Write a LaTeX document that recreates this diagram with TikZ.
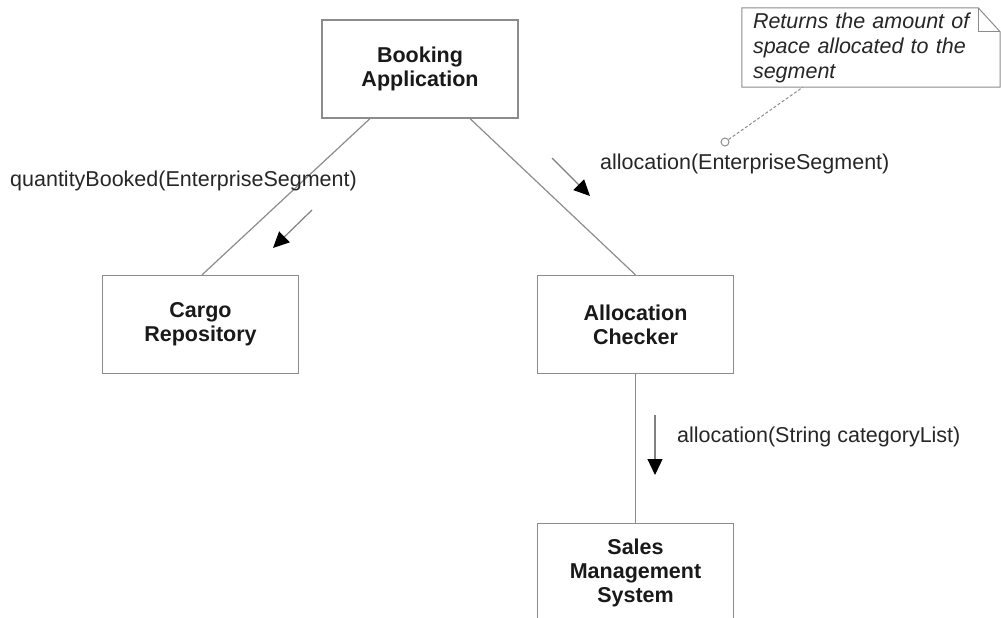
\documentclass[tikz,border=0pt]{standalone}
\usepackage{fontspec}
\setmainfont{Liberation Sans}
\usetikzlibrary{arrows.meta,positioning,calc}

\begin{document}
\begin{tikzpicture}[x=1pt,y=-1pt,
 >={Triangle[length=16pt,width=15pt,color=black]},
 cls/.style={draw=black!45,line width=1.2pt,minimum width=196pt,minimum height=98pt,
   align=center,text=black!90,font=\fontsize{21.5}{24}\selectfont\bfseries},
 lnk/.style={draw=black!45,line width=1.2pt},
 msg/.style={->,draw=black!50,line width=1.2pt},
 lbl/.style={anchor=west,inner sep=0pt,text=black!85,font=\fontsize{21.5}{24}\selectfont}]
\useasboundingbox (0,0) rectangle (1001,618);

\node[cls] (book) at (420,69) {Booking\\Application};
\node[cls] (cargo) at (200.5,324.5) {Cargo\\Repository};
\node[cls] (alloc) at (635.5,324.5) {Allocation\\Checker};
\node[cls] (sales) at (635.5,572.5) {Sales\\Management\\System};

\draw[lnk] ([xshift=-50pt]book.south)--([xshift=1.5pt]cargo.north);
\draw[lnk] ([xshift=50pt]book.south)--(alloc.north);
\draw[lnk] (alloc.south)--(sales.north);

% messages
\coordinate (m1a) at (312,210); \coordinate (m1b) at (273,248);
\coordinate (m2a) at (552,158); \coordinate (m2b) at (590,196);
\coordinate (m3a) at (655,415); \coordinate (m3b) at (655,475);
\draw[msg] (m1a)--(m1b); \draw[msg] (m2a)--(m2b); \draw[msg] (m3a)--(m3b);
\node[lbl] (q1) at (10,181) {quantityBooked(EnterpriseSegment)};
\node[lbl] (q2) at (600,164) {allocation(EnterpriseSegment)};
\node[lbl] (q3) at (677,437) {allocation(String categoryList)};

% note
\node[minimum width=258pt,minimum height=79pt,inner xsep=11pt,text width=236pt,
  align=left,text=black!85,font=\fontsize{21.5}{25}\selectfont\itshape]
  (note) at (871,47.5) {Returns the amount of\\space allocated to the\\segment};
\draw[lnk,line width=1pt] (note.north west)--([xshift=-22pt]note.north east)
  --([yshift=-24pt]note.north east)--(note.south east)--(note.south west)--cycle;
\draw[lnk,line width=1pt] ([xshift=-22pt]note.north east)
  --([xshift=-22pt,yshift=-24pt]note.north east)--([yshift=-24pt]note.north east);
\node[circle,draw=black!45,line width=1pt,minimum size=8pt,inner sep=0pt] (pin) at (725,142) {};
\draw[lnk,line width=1pt,dashed,dash pattern=on 3pt off 2pt] (pin)--([xshift=61pt]note.south west);
\end{tikzpicture}
\end{document}
